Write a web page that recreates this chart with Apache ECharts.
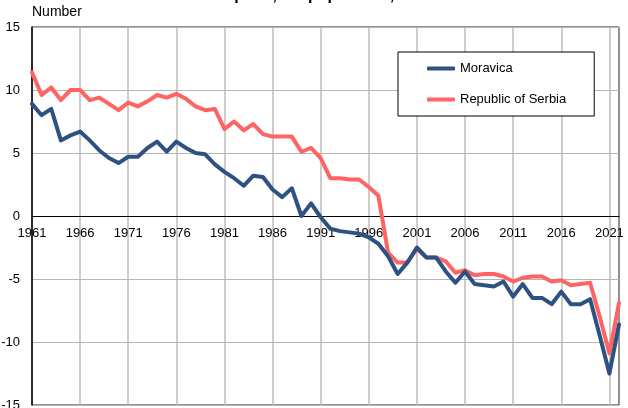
<!DOCTYPE html>
<html>
<head>
<meta charset="utf-8">
<script src="https://cdn.jsdelivr.net/npm/echarts@6/dist/echarts.min.js"></script>
<style>
  html, body { margin: 0; padding: 0; background: #fff; }
  #chart { width: 628px; height: 408px; }
</style>
</head>
<body>
<div id="chart"></div>
<script>
// years 1961..2022
var years = [];
for (var y = 1961; y <= 2022; y++) { years.push(String(y)); }

var moravica = [
  8.9, 8.0, 8.5, 6.0, 6.4, 6.7, 6.0, 5.2, 4.6, 4.2,
  4.7, 4.7, 5.4, 5.9, 5.1, 5.9, 5.4, 5.0, 4.9, 4.1,
  3.5, 3.0, 2.4, 3.2, 3.1, 2.1, 1.5, 2.2, 0.0, 1.0,
  -0.1, -1.0, -1.2, -1.3, -1.4, -1.7, -2.2, -3.2, -4.6, -3.7,
  -2.5, -3.3, -3.3, -4.4, -5.3, -4.4, -5.4, -5.5, -5.6, -5.2,
  -6.4, -5.4, -6.5, -6.5, -7.0, -6.0, -7.0, -7.0, -6.6, -9.5,
  -12.5, -8.6
];

var serbia = [
  11.4, 9.6, 10.2, 9.2, 10.0, 10.0, 9.2, 9.4, 8.9, 8.4,
  9.0, 8.7, 9.1, 9.6, 9.4, 9.7, 9.3, 8.7, 8.4, 8.5,
  6.9, 7.5, 6.8, 7.3, 6.5, 6.3, 6.3, 6.3, 5.1, 5.4,
  4.6, 3.0, 3.0, 2.9, 2.9, 2.3, 1.6, -2.9, -3.7, -3.7,
  -2.6, -3.3, -3.3, -3.6, -4.5, -4.3, -4.7, -4.6, -4.6, -4.8,
  -5.2, -4.9, -4.8, -4.8, -5.2, -5.1, -5.5, -5.4, -5.3, -8.0,
  -10.9, -6.9
];

var seriesNames = ['Moravica', 'Republic of Serbia'];
var titleText = 'Natural increase per 1,000 population, 1961\u20132022';

var chart = echarts.init(document.getElementById('chart'));
chart.setOption({
  animation: false,
  textStyle: { fontFamily: 'Liberation Sans, Arial, sans-serif' },
  color: ['#2d5282', '#ff6464'],
  // title sits mostly above the top edge, as in the reference
  graphic: [{
    type: 'text',
    x: 292,
    y: 4,
    style: {
      text: titleText,
      font: 'bold 16px Liberation Sans, Arial, sans-serif',
      fill: '#000',
      align: 'center',
      verticalAlign: 'bottom'
    }
  }],
  grid: {
    left: 32, top: 27, right: 9, bottom: 3,
    outerBoundsMode: 'none',
    show: true,
    borderColor: '#222',
    borderWidth: 1,
    containLabel: false
  },
  legend: {
    orient: 'vertical',
    left: 398,
    top: 52,
    width: 201,
    padding: [9, 28, 9, 29],
    itemGap: 16,
    itemWidth: 28,
    itemHeight: 4,
    icon: 'roundRect',
    borderColor: '#000',
    borderWidth: 1,
    backgroundColor: '#fff',
    textStyle: { fontSize: 13, color: '#000', lineHeight: 15 },
    data: seriesNames
  },
  xAxis: {
    type: 'category',
    data: years,
    boundaryGap: false,
    position: 'bottom',
    offset: -189,
    axisLine: { onZero: false, lineStyle: { color: '#000', width: 1 } },
    axisTick: { show: false },
    axisLabel: { interval: 4, fontSize: 13, color: '#000', margin: 11 },
    splitLine: { show: true, interval: 4, lineStyle: { color: '#bbbbbb', width: 1.5 } }
  },
  yAxis: {
    type: 'value',
    min: -15,
    max: 15,
    interval: 5,
    name: 'Number',
    nameLocation: 'end',
    nameGap: 8,
    nameTextStyle: { fontSize: 14, color: '#000', align: 'left' },
    axisLine: { show: true, lineStyle: { color: '#000', width: 1.5 } },
    axisTick: { show: false },
    axisLabel: { fontSize: 13, color: '#000', margin: 12 },
    splitLine: { show: true, lineStyle: { color: '#b5b5b5', width: 1 } }
  },
  series: [{
    name: seriesNames[0],
    type: 'line',
    data: moravica,
    symbol: 'none',
    lineStyle: { width: 4, cap: 'round', join: 'round' },
    z: 3
  }, {
    name: seriesNames[1],
    type: 'line',
    data: serbia,
    symbol: 'none',
    lineStyle: { width: 4, cap: 'round', join: 'round' },
    z: 2
  }]
});
</script>
</body>
</html>
